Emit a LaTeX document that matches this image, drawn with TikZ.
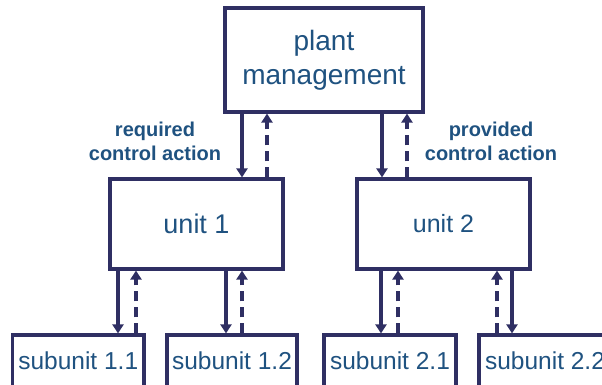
\documentclass[tikz,border=0pt]{standalone}
\usepackage{fontspec}
\setmainfont{Liberation Sans}
\usetikzlibrary{arrows.meta}
\definecolor{frame}{HTML}{2F2F63}
\definecolor{ink}{HTML}{1F5280}
\tikzset{
  box/.style={draw=frame, line width=3.2pt, fill=white, inner sep=0pt,
    text=ink, align=center},
  down/.style={draw=frame, line width=3.4pt, -{Triangle[width=11pt,length=9pt]}},
  up/.style={draw=frame, line width=3.4pt, dash pattern=on 10pt off 6pt,
    -{Triangle[width=11pt,length=9pt]}},
  note/.style={text=ink, font=\fontsize{20}{24}\selectfont\bfseries, align=center}
}
\begin{document}
\begin{tikzpicture}[x=1pt,y=-1pt]
  \useasboundingbox (0,0) rectangle (602,385);
  \clip (0,0) rectangle (602,385);

  % boxes
  \node[box, minimum width=198pt, minimum height=104pt,
        font=\fontsize{28}{34}\selectfont] (plant) at (324,60) {plant\\management};
  \node[box, minimum width=173pt, minimum height=90pt,
        font=\fontsize{27}{32}\selectfont] (u1) at (196.5,224) {unit 1};
  \node[box, minimum width=173pt, minimum height=90pt,
        font=\fontsize{25}{30}\selectfont] (u2) at (443.5,224) {unit 2};

  \tikzset{sub/.style={box, minimum height=52pt, font=\fontsize{24.5}{29}\selectfont}}
  \node[sub, minimum width=131.5pt] (s11) at (78.25,361) {subunit 1.1};
  \node[sub, minimum width=130pt] (s12) at (232,361) {subunit 1.2};
  \node[sub, minimum width=132pt] (s21) at (390,361) {subunit 2.1};
  \node[sub, minimum width=132pt] (s22) at (545,361) {subunit 2.2};

  % plant management <-> units
  \draw[down] (plant.south -| 242,0) -- (u1.north -| 242,0);
  \draw[up]   (u1.north -| 267,0) -- (plant.south -| 267,0);
  \draw[down] (plant.south -| 382,0) -- (u2.north -| 382,0);
  \draw[up]   (u2.north -| 407,0) -- (plant.south -| 407,0);

  % units <-> subunits
  \draw[down] (u1.south -| 118,0) -- (s11.north -| 118,0);
  \draw[up]   (s11.north -| 136,0) -- (u1.south -| 136,0);
  \draw[down] (u1.south -| 226,0) -- (s12.north -| 226,0);
  \draw[up]   (s12.north -| 242,0) -- (u1.south -| 242,0);
  \draw[down] (u2.south -| 381,0) -- (s21.north -| 381,0);
  \draw[up]   (s21.north -| 398,0) -- (u2.south -| 398,0);
  \draw[up]   (s22.north -| 497,0) -- (u2.south -| 497,0);
  \draw[down] (u2.south -| 512,0) -- (s22.north -| 512,0);

  % labels
  \node[note] (req) at (155,141.5) {required\\control action};
  \node[note] (prov) at (491,141.5) {provided\\control action};
\end{tikzpicture}
\end{document}
